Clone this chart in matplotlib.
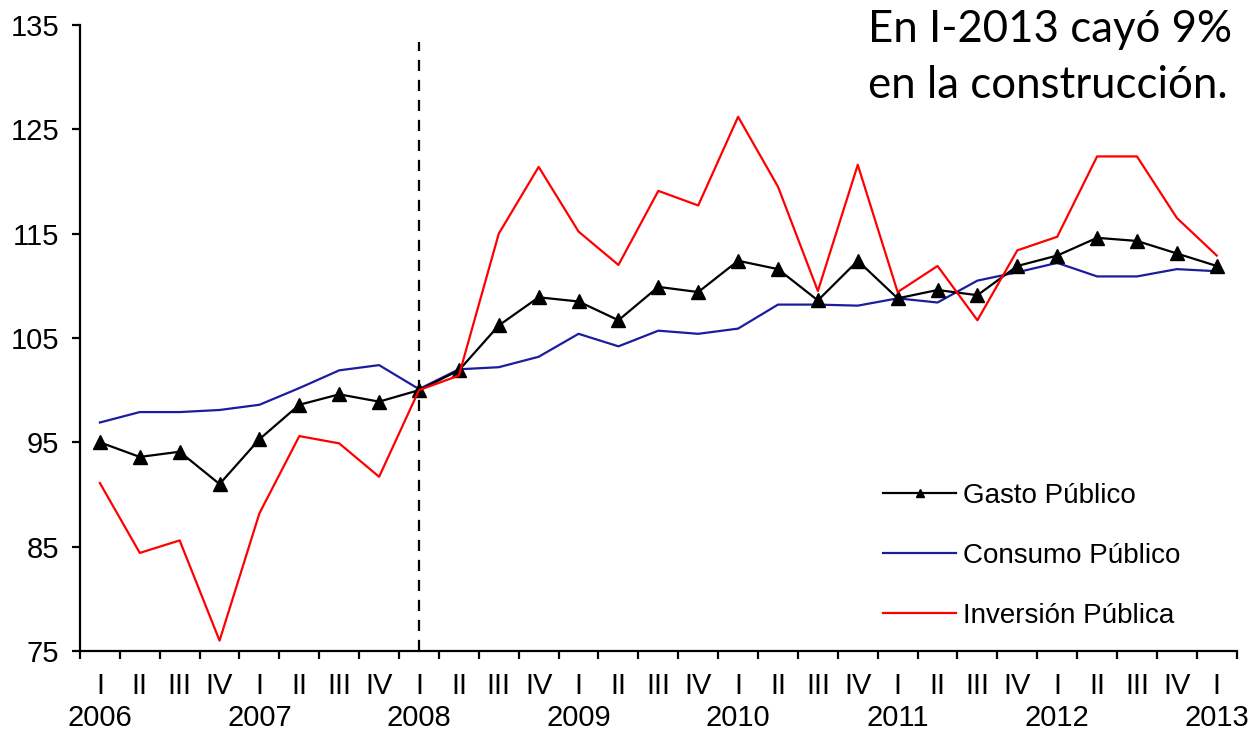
import matplotlib
matplotlib.use("Agg")
import matplotlib.pyplot as plt
import matplotlib.transforms as mtransforms
from matplotlib.ticker import FixedLocator, NullFormatter

plt.rcParams['font.family'] = ['Liberation Sans', 'DejaVu Sans']

# Quarterly indices (I-2008 = 100)
quarters = ["I", "II", "III", "IV"] * 7 + ["I"]
years = ["2006", "2007", "2008", "2009", "2010", "2011", "2012", "2013"]

gasto_publico = [95.0, 93.6, 94.1, 91.0, 95.3, 98.6, 99.6, 98.9,
                 100.0, 101.9, 106.2, 108.9, 108.5, 106.7, 109.9, 109.4,
                 112.4, 111.6, 108.6, 112.4, 108.8, 109.6, 109.1, 111.9,
                 112.9, 114.6, 114.3, 113.1, 111.9]
consumo_publico = [96.9, 97.9, 97.9, 98.1, 98.6, 100.2, 101.9, 102.4,
                   100.1, 102.0, 102.2, 103.2, 105.4, 104.2, 105.7, 105.4,
                   105.9, 108.2, 108.2, 108.1, 108.8, 108.4, 110.5, 111.3,
                   112.2, 110.9, 110.9, 111.6, 111.4]
inversion_publica = [91.1, 84.4, 85.6, 76.0, 88.2, 95.6, 94.9, 91.7,
                     100.0, 101.4, 115.0, 121.4, 115.2, 112.0, 119.1, 117.7,
                     126.2, 119.5, 109.5, 121.6, 109.4, 111.9, 106.7, 113.4,
                     114.7, 122.4, 122.4, 116.5, 112.9]

labels = ["Gasto Público", "Consumo Público", "Inversión Pública"]
base_index = 8  # I-2008

fig = plt.figure(figsize=(12.53, 7.30), dpi=100)
ax = fig.add_axes([0.0638, 0.1082, 0.9232, 0.8576])

x = list(range(len(quarters)))

l_cons, = ax.plot(x, consumo_publico, color="#1c1c9e", lw=1.6,
                  label=labels[1], zorder=3)
l_gasto, = ax.plot(x, gasto_publico, color="black", lw=1.6, marker="^",
                   markersize=10, label=labels[0], zorder=4)
l_inv, = ax.plot(x, inversion_publica, color="#ff0000", lw=1.6,
                 label=labels[2], zorder=5)

ax.plot([base_index, base_index], [75, 133.4], color="black", lw=1.6,
        ls=(0, (5, 4)), zorder=2)

ax.set_xlim(-0.5, len(quarters) - 0.5)
ax.set_ylim(75, 135)
ax.set_yticks(range(75, 136, 10))

# category boundaries carry the tick marks, centres carry the quarter labels
ax.xaxis.set_major_locator(FixedLocator([i - 0.5 for i in range(len(quarters) + 1)]))
ax.xaxis.set_major_formatter(NullFormatter())
ax.xaxis.set_minor_locator(FixedLocator(x))
ax.set_xticklabels(quarters, minor=True)

ax.tick_params(axis="x", which="major", direction="out", length=6, width=1.6)
ax.tick_params(axis="x", which="minor", length=0, pad=15, labelsize=21)
ax.tick_params(axis="y", direction="out", length=6, width=1.6, pad=9, labelsize=21)

for side in ("top", "right"):
    ax.spines[side].set_visible(False)
for side in ("left", "bottom"):
    ax.spines[side].set_linewidth(1.6)

trans = mtransforms.blended_transform_factory(ax.transData, ax.transAxes)
for k, yr in enumerate(years):
    ax.text(4 * k, -0.107, yr, transform=trans, ha="center", va="center",
            fontsize=21)

ax.legend(handles=[l_gasto, l_cons, l_inv],
          loc="upper left", bbox_to_anchor=(0.673, 0.308), frameon=False,
          fontsize=20, handlelength=2.6, handletextpad=0.25,
          labelspacing=1.22, markerscale=0.55)

fig.text(0.693, 0.943, "En I-2013 cayó 9%", fontsize=31.5, family="Lato",
         ha="left", va="baseline")
fig.text(0.693, 0.866, "en la construcción.", fontsize=31.5, family="Lato",
         ha="left", va="baseline")

fig.savefig("out.png", dpi=100)
